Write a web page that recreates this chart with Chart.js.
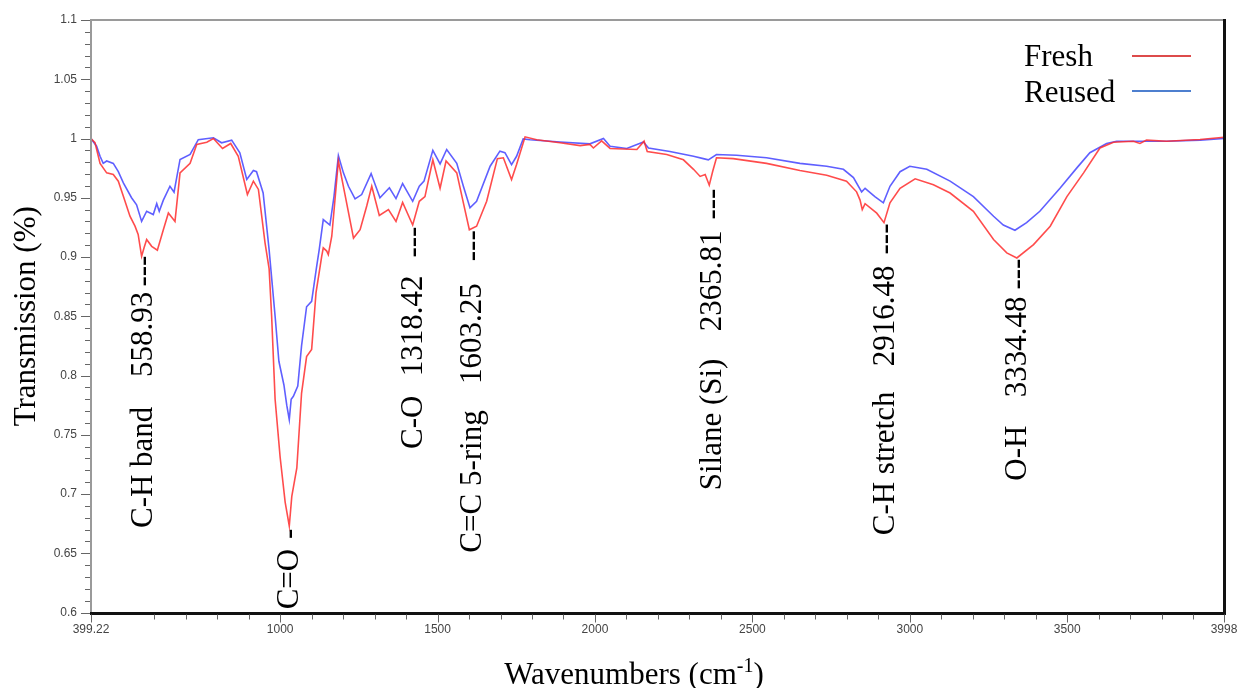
<!DOCTYPE html>
<html>
<head>
<meta charset="utf-8">
<title>FTIR – Fresh vs Reused</title>
<script src="https://cdn.jsdelivr.net/npm/chart.js@4.4.1/dist/chart.umd.min.js"></script>
<style>
  html, body { margin: 0; padding: 0; background: #fff; }
  #wrap { width: 1242px; height: 688px; }
</style>
</head>
<body>
<div id="wrap"><canvas id="ftir" width="1242" height="688"></canvas></div>
<script>
/* spectra: wavenumber (cm-1) and transmission */
const freshWn = [399, 412, 428, 449, 470, 486, 502, 523, 539, 549, 560, 568, 576, 592, 610, 629, 645, 666, 682, 714,
  735, 767, 788, 817, 843, 867, 896, 915, 931, 952, 965, 973, 984, 1000, 1016, 1029, 1037, 1053, 1068, 1084,
  1100, 1114, 1132, 1137, 1148, 1153, 1164, 1185, 1206, 1233, 1254, 1275, 1291, 1315, 1344, 1368, 1389, 1421, 1442, 1460,
  1485, 1508, 1527, 1561, 1582, 1601, 1624, 1656, 1690, 1709, 1735, 1751, 1778, 1815, 1889, 1953, 1984, 1995, 2021, 2048,
  2133, 2156, 2166, 2228, 2281, 2313, 2334, 2350, 2363, 2374, 2386, 2439, 2545, 2651, 2736, 2799, 2831, 2842, 2849, 2858,
  2895, 2918, 2937, 2969, 3017, 3075, 3128, 3202, 3266, 3308, 3340, 3393, 3446, 3499, 3552, 3604, 3647, 3710, 3731, 3752,
  3816, 3922, 3998];
const freshT = [1.000, 0.9964, 0.979, 0.971, 0.9696, 0.964, 0.9513, 0.9344, 0.926, 0.919, 0.9006, 0.908, 0.9147, 0.909, 0.9057, 0.923, 0.9372, 0.930, 0.971, 0.979,
  0.995, 0.9969, 1.000, 0.9916, 0.9958, 0.985, 0.9527, 0.964, 0.957, 0.912, 0.89, 0.85, 0.78, 0.731, 0.693, 0.673, 0.698, 0.722, 0.785, 0.816,
  0.822, 0.870, 0.9006, 0.9077, 0.905, 0.902, 0.9175, 0.981, 0.9527, 0.916, 0.923, 0.943, 0.9597, 0.935, 0.940, 0.930, 0.946, 0.927, 0.947, 0.951,
  0.982, 0.958, 0.981, 0.971, 0.9457, 0.923, 0.926, 0.947, 0.983, 0.9837, 0.9654, 0.978, 1.0014, 0.999, 0.9964, 0.994, 0.995, 0.992, 0.998, 0.9916,
  0.9907, 0.9977, 0.989, 0.9865, 0.982, 0.974, 0.968, 0.9696, 0.9606, 0.9724, 0.9837, 0.983, 0.979, 0.973, 0.969, 0.964, 0.955, 0.948, 0.940, 0.945,
  0.937, 0.929, 0.9457, 0.958, 0.966, 0.961, 0.954, 0.9386, 0.9147, 0.9035, 0.8992, 0.9105, 0.926, 0.951, 0.971, 0.992, 0.9969, 0.9977, 0.9958, 0.9986,
  0.9977, 0.9992, 1.001];

const reusedWn = [399, 417, 428, 438, 449, 470, 486, 502, 528, 544, 560, 576, 597, 608, 616, 629, 650, 663, 682, 714,
  740, 788, 814, 846, 872, 894, 915, 925, 946, 965, 984, 996, 1012, 1021, 1029, 1035, 1042, 1056, 1068, 1084,
  1100, 1116, 1124, 1137, 1158, 1171, 1185, 1201, 1217, 1238, 1259, 1289, 1317, 1347, 1368, 1389, 1421, 1442, 1457, 1485,
  1508, 1529, 1561, 1582, 1603, 1624, 1667, 1698, 1714, 1735, 1751, 1772, 1794, 1889, 1984, 2027, 2048, 2101, 2154, 2170,
  2238, 2313, 2344, 2360, 2386, 2450, 2545, 2651, 2736, 2789, 2821, 2847, 2858, 2889, 2916, 2937, 2969, 3000, 3054, 3128,
  3202, 3266, 3297, 3334, 3371, 3413, 3477, 3530, 3572, 3625, 3657, 3710, 3816, 3922, 3998];
const reusedT = [1.000, 0.9935, 0.985, 0.979, 0.981, 0.979, 0.972, 0.9626, 0.950, 0.944, 0.930, 0.9386, 0.9358, 0.945, 0.9386, 0.948, 0.9597, 0.9547, 0.9823, 0.9865,
  0.999, 1.0006, 0.9964, 0.9986, 0.988, 0.9654, 0.973, 0.972, 0.954, 0.906, 0.850, 0.812, 0.792, 0.775, 0.7627, 0.780, 0.7824, 0.791, 0.825, 0.858,
  0.8626, 0.892, 0.906, 0.9316, 0.927, 0.951, 0.9856, 0.971, 0.9597, 0.949, 0.9527, 0.9704, 0.950, 0.9584, 0.9493, 0.962, 0.947, 0.9597, 0.964, 0.990,
  0.9786, 0.9907, 0.979, 0.9597, 0.9415, 0.947, 0.9766, 0.9893, 0.988, 0.978, 0.985, 0.9997, 0.999, 0.997, 0.9955, 1.000, 0.9935, 0.9916, 0.997, 0.992,
  0.989, 0.985, 0.983, 0.982, 0.9865, 0.9859, 0.9837, 0.979, 0.9766, 0.974, 0.967, 0.955, 0.958, 0.951, 0.9457, 0.9597, 0.972, 0.9766, 0.974, 0.964,
  0.951, 0.9344, 0.927, 0.9226, 0.929, 0.9386, 0.958, 0.975, 0.988, 0.9958, 0.9977, 0.9977, 0.9977, 0.9986, 1.000];

const xMajorTicks = [399.22, 1000, 1500, 2000, 2500, 3000, 3500, 3998];
const xTickLabels = ["399.22", "1000", "1500", "2000", "2500", "3000", "3500", "3998"];
const yMajorTicks = [0.6, 0.65, 0.7, 0.75, 0.8, 0.85, 0.9, 0.95, 1, 1.05, 1.1];
const yTickLabels = ["0.6", "0.65", "0.7", "0.75", "0.8", "0.85", "0.9", "0.95", "1", "1.05", "1.1"];

/* band labels: name, number, where the dashes touch the Fresh curve */
const bands = [
  { name: "C-H band", num: "558.93", wn: 563, t: 0.9003, numGap: 36, nameGap: 151 },
  { name: "C=O", num: "", wn: 1029, t: 0.6698, nameGap: 20, dash: "-" },
  { name: "C-O", num: "1318.42", wn: 1423, t: 0.9248, numGap: 49, nameGap: 169 },
  { name: "C=C 5-ring", num: "1603.25", wn: 1608, t: 0.9217, numGap: 53, nameGap: 180 },
  { name: "Silane (Si)", num: "2365.81", wn: 2371, t: 0.9569, numGap: 42, nameGap: 170 },
  { name: "C-H stretch", num: "2916.48", wn: 2921, t: 0.9274, numGap: 42, nameGap: 168 },
  { name: "O-H", num: "3334.48", wn: 3339, t: 0.8978, numGap: 38, nameGap: 167 },
];

const SERIF = '31px "Liberation Serif", "Times New Roman", serif';
const SANS = '12px "Liberation Sans", Arial, sans-serif';

function rotText(ctx, str, bx, y, align) {
  ctx.save();
  ctx.translate(bx, y);
  ctx.rotate(-Math.PI / 2);
  ctx.textAlign = align;
  ctx.textBaseline = "alphabetic";
  ctx.fillText(str, 0, 0);
  ctx.restore();
}

const frameAndNotes = {
  id: "frameAndNotes",
  afterDatasetsDraw(chart) {
    const { ctx, chartArea: a, scales: { x, y } } = chart;
    ctx.save();

    // frame: grey top/left, heavy black bottom/right
    ctx.strokeStyle = "#9a9a9a"; ctx.lineWidth = 2;
    ctx.beginPath(); ctx.moveTo(a.left, a.bottom); ctx.lineTo(a.left, a.top); ctx.lineTo(a.right + 2, a.top); ctx.stroke();
    ctx.strokeStyle = "#111"; ctx.lineWidth = 3;
    ctx.beginPath(); ctx.moveTo(a.left - 1, a.bottom + 1); ctx.lineTo(a.right + 0.5, a.bottom + 1); ctx.lineTo(a.right + 0.5, a.top - 1); ctx.stroke();

    // y ticks every 0.01, longer on labelled values
    ctx.strokeStyle = "#666"; ctx.lineWidth = 1;
    for (let k = 60; k <= 110; k++) {
      const py = Math.round(y.getPixelForValue(k / 100)) + 0.5;
      const len = k % 5 === 0 ? 10 : 6;
      ctx.beginPath(); ctx.moveTo(a.left - len, py); ctx.lineTo(a.left - 1, py); ctx.stroke();
    }
    // x ticks every 100 plus the two end values
    const xt = xMajorTicks.slice();
    for (let w = 500; w <= 3900; w += 100) if (w % 500) xt.push(w);
    xt.forEach(w => {
      const px = Math.round(x.getPixelForValue(w)) + 0.5;
      const len = xMajorTicks.includes(w) ? 8 : 5;
      ctx.beginPath(); ctx.moveTo(px, a.bottom + 2); ctx.lineTo(px, a.bottom + 2 + len); ctx.stroke();
    });

    ctx.font = SANS; ctx.fillStyle = "#444";
    ctx.textAlign = "right"; ctx.textBaseline = "middle";
    yMajorTicks.forEach((v, i) => ctx.fillText(yTickLabels[i], a.left - 14, y.getPixelForValue(v)));
    ctx.textAlign = "center";
    xMajorTicks.forEach((w, i) => ctx.fillText(xTickLabels[i], x.getPixelForValue(w), 630));

    // axis titles
    ctx.fillStyle = "#000"; ctx.font = SERIF;
    rotText(ctx, "Transmission (%)", 35, (a.top + a.bottom) / 2, "center");
    const p1 = "Wavenumbers (cm", sup = "-1", p2 = ")";
    const w1 = ctx.measureText(p1).width, w3 = ctx.measureText(p2).width;
    ctx.font = '20px "Liberation Serif", "Times New Roman", serif';
    const w2 = ctx.measureText(sup).width;
    let tx = 634 - (w1 + w2 + w3) / 2;
    ctx.textAlign = "left"; ctx.textBaseline = "alphabetic";
    ctx.font = SERIF; ctx.fillText(p1, tx, 684);
    ctx.font = '20px "Liberation Serif", "Times New Roman", serif'; ctx.fillText(sup, tx + w1, 672);
    ctx.font = SERIF; ctx.fillText(p2, tx + w1 + w2, 684);

    // legend
    ctx.fillText("Fresh", 1024, 66);
    ctx.fillText("Reused", 1024, 102);
    ctx.lineWidth = 2;
    ctx.strokeStyle = "#dd4b4b";
    ctx.beginPath(); ctx.moveTo(1132, 56); ctx.lineTo(1191, 56); ctx.stroke();
    ctx.strokeStyle = "#4d7fcf";
    ctx.beginPath(); ctx.moveTo(1132, 91); ctx.lineTo(1191, 91); ctx.stroke();

    // band labels, vertical, with dashes down from the peak
    ctx.font = SERIF;
    bands.forEach(b => {
      const bx = x.getPixelForValue(b.wn) + 9;
      const top = y.getPixelForValue(b.t) - 1;
      rotText(ctx, b.dash || "---", bx, top, "right");
      if (b.num) rotText(ctx, b.num, bx, top + b.numGap, "right");
      rotText(ctx, b.name, bx, top + b.nameGap, "right");
    });
    ctx.restore();
  }
};

const pts = (wn, t) => wn.map((w, i) => ({ x: w, y: t[i] }));

new Chart(document.getElementById("ftir"), {
  type: "line",
  data: {
    datasets: [
      { label: "Fresh", data: pts(freshWn, freshT), borderColor: "rgba(255,45,45,0.85)", borderWidth: 1.6 },
      { label: "Reused", data: pts(reusedWn, reusedT), borderColor: "rgba(55,55,255,0.8)", borderWidth: 1.6 },
    ],
  },
  options: {
    responsive: false, animation: false, devicePixelRatio: 1,
    layout: { padding: { left: 91, top: 20, right: 18, bottom: 75.5 } },
    elements: { point: { radius: 0 }, line: { tension: 0 } },
    plugins: { legend: { display: false }, tooltip: { enabled: false } },
    scales: {
      x: { type: "linear", min: 399.22, max: 3998, display: false },
      y: { min: 0.6, max: 1.1, display: false },
    },
  },
  plugins: [frameAndNotes],
});
</script>
</body>
</html>
